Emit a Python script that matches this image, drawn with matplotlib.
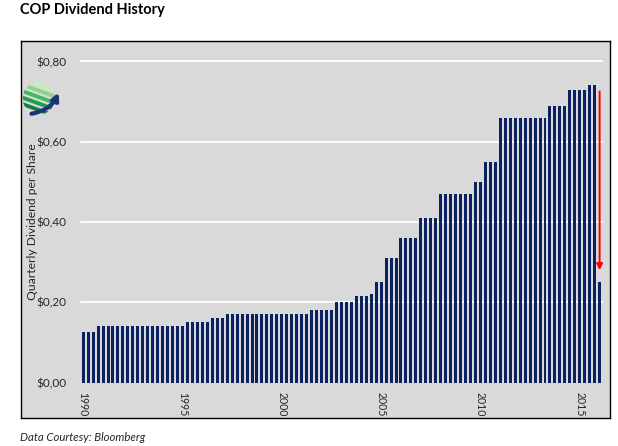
import matplotlib
matplotlib.use("Agg")
import matplotlib.pyplot as plt
from matplotlib.patches import Circle, Rectangle, FancyArrowPatch

# quarterly dividend per share, 1990 Q1 .. 2016 Q1
dividends = [
    0.125, 0.125, 0.125, 0.14,   # 1990
    0.14, 0.14, 0.14, 0.14,      # 1991
    0.14, 0.14, 0.14, 0.14,      # 1992
    0.14, 0.14, 0.14, 0.14,      # 1993
    0.14, 0.14, 0.14, 0.14,      # 1994
    0.14, 0.15, 0.15, 0.15,      # 1995
    0.15, 0.15, 0.16, 0.16,      # 1996
    0.16, 0.17, 0.17, 0.17,      # 1997
    0.17, 0.17, 0.17, 0.17,      # 1998
    0.17, 0.17, 0.17, 0.17,      # 1999
    0.17, 0.17, 0.17, 0.17,      # 2000
    0.17, 0.17, 0.18, 0.18,      # 2001
    0.18, 0.18, 0.18, 0.20,      # 2002
    0.20, 0.20, 0.20, 0.215,     # 2003
    0.215, 0.215, 0.22, 0.25,    # 2004
    0.25, 0.31, 0.31, 0.31,      # 2005
    0.36, 0.36, 0.36, 0.36,      # 2006
    0.41, 0.41, 0.41, 0.41,      # 2007
    0.47, 0.47, 0.47, 0.47,      # 2008
    0.47, 0.47, 0.47, 0.50,      # 2009
    0.50, 0.55, 0.55, 0.55,      # 2010
    0.66, 0.66, 0.66, 0.66,      # 2011
    0.66, 0.66, 0.66, 0.66,      # 2012
    0.66, 0.66, 0.69, 0.69,      # 2013
    0.69, 0.69, 0.73, 0.73,      # 2014
    0.73, 0.73, 0.74, 0.74,      # 2015
    0.25,                        # 2016
]
first_year = 1990
tick_years = ["1990", "1995", "2000", "2005", "2010", "2015"]
y_ticks = [0.0, 0.2, 0.4, 0.6, 0.8]
y_tick_labels = ["$0,00", "$0,20", "$0,40", "$0,60", "$0,80"]
arrow_top = 0.725
arrow_tip = 0.28

W, H = 618, 446
BAR = "#0b2262"
BG = "#d9d9d9"
TXT = "#262626"
plt.rcParams["font.family"] = ["Lato", "DejaVu Sans"]

fig = plt.figure(figsize=(W / 100, H / 100), dpi=100)


def fig_rect(x0, y0, x1, y1):
    # pixel box (top-left origin) -> figure fraction
    return [x0 / W, 1 - y1 / H, (x1 - x0) / W, (y1 - y0) / H]


# chart area frame, drawn in its own axes behind everything
bg = fig.add_axes(fig_rect(20.5, 40.5, 609.5, 417.5), zorder=-5)
bg.set_facecolor(BG)
bg.set_xticks([])
bg.set_yticks([])
for spine in bg.spines.values():
    spine.set_linewidth(1.0)
    spine.set_color("black")

ax = fig.add_axes(fig_rect(80.7, 61.4, 602.1, 382.6))
ax.set_facecolor("none")
positions = list(range(len(dividends)))
ax.bar(positions, dividends, width=0.6, color=BAR, zorder=3)
ax.set_xlim(-0.5, len(dividends) - 0.5)
ax.set_ylim(0, 0.8)
for y in y_ticks[1:]:
    ax.axhline(y, color="white", linewidth=1.3, zorder=1, clip_on=False)

ax.set_yticks(y_ticks, y_tick_labels)
tick_pos = [(int(y) - first_year) * 4 for y in tick_years]
ax.set_xticks(tick_pos, tick_years, rotation=-90, va="top", ha="center")
ax.tick_params(axis="y", length=0, pad=10, labelsize=8.5, labelcolor=TXT)
ax.tick_params(axis="x", length=0, pad=7, labelsize=7.6, labelcolor=TXT)
for spine in ax.spines.values():
    spine.set_visible(False)

ax.annotate("", xy=(len(dividends) - 1, arrow_tip), xytext=(len(dividends) - 1, arrow_top),
            arrowprops=dict(arrowstyle="-|>", color="#ff0000", lw=1.4, mutation_scale=9,
                            shrinkA=0, shrinkB=0), zorder=5)

fig.text(33 / W, 1 - 222 / H, "Quarterly Dividend per Share", rotation=90,
         ha="center", va="center", fontsize=8.7, color=TXT)
fig.text(20.5 / W, 1 - 3 / H, "COP Dividend History", ha="left", va="top",
         fontsize=10.5, fontweight="bold", color="black")
fig.text(20.5 / W, 1 - 432 / H, "Data Courtesy: Bloomberg", ha="left", va="top",
         fontsize=8.2, style="italic", color=TXT)

# small globe logo in the corner: green stripes on a sphere plus a navy swoosh
lax = fig.add_axes(fig_rect(23, 80, 61, 118))
lax.set_xlim(0, 1)
lax.set_ylim(0, 1)
lax.set_aspect("equal")
lax.axis("off")
globe = Circle((0.42, 0.52), 0.43, transform=lax.transData)
stripes = [("#c6ebc0", 0.86), ("#86d685", 0.70), ("#3dbb5a", 0.53), ("#1f9e4a", 0.36), ("#167e45", 0.19)]
for col, yc in stripes:
    band = Rectangle((-0.1, yc - 0.06), 1.2, 0.1, angle=-20, rotation_point="center",
                     facecolor=col, edgecolor="none")
    lax.add_patch(band)
    band.set_clip_path(globe)
lax.add_patch(FancyArrowPatch((0.15, 0.1), (0.97, 0.74), connectionstyle="arc3,rad=0.3",
                              arrowstyle="-|>", mutation_scale=10, color="#1c3474", lw=3))

fig.savefig("out.png", dpi=100)
